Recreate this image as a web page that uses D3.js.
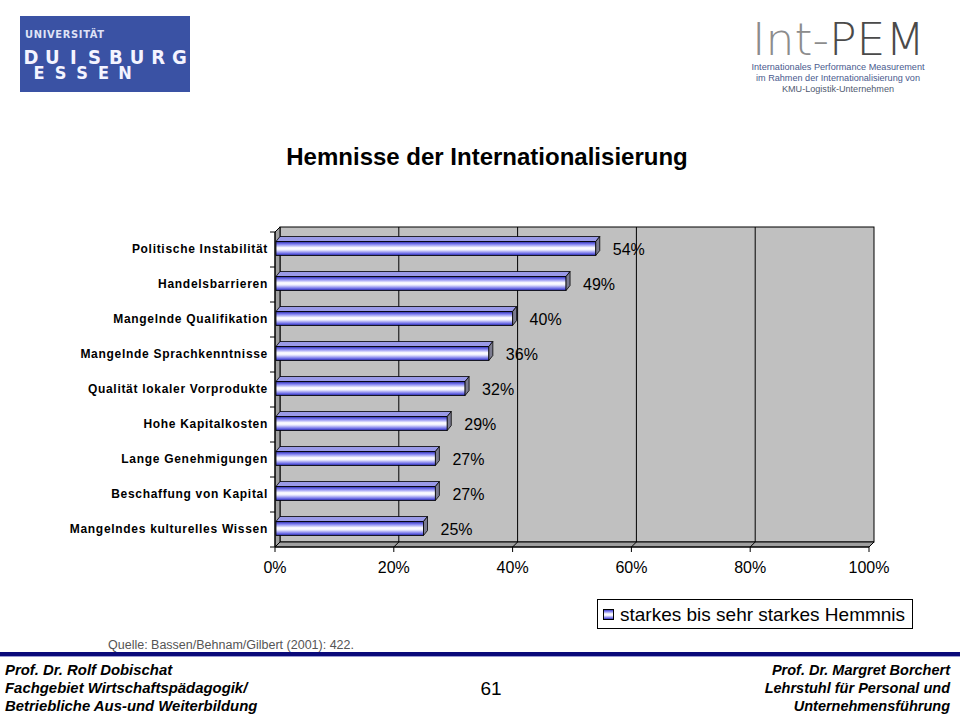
<!DOCTYPE html>
<html><head><meta charset="utf-8">
<script src="https://cdn.jsdelivr.net/npm/d3@7"></script>
<style>body{margin:0;background:#fff}svg{display:block}</style>
</head><body>
<script>
const categories = ["Politische Instabilität","Handelsbarrieren","Mangelnde Qualifikation","Mangelnde Sprachkenntnisse","Qualität lokaler Vorprodukte","Hohe Kapitalkosten","Lange Genehmigungen","Beschaffung von Kapital","Mangelndes kulturelles Wissen"];
const values = [54,49,40,36,32,29,27,27,25];
const tickValues = [0,20,40,60,80,100];
const tickLabels = ["0%","20%","40%","60%","80%","100%"];
const seriesName = "starkes bis sehr starkes Hemmnis";
const title = "Hemnisse der Internationalisierung";

const W=960,H=720;
const svg=d3.select("body").append("svg").attr("width",W).attr("height",H);
const F="Liberation Sans, Arial, sans-serif";
const defs=svg.append("defs");
const g1=defs.append("linearGradient").attr("id","barg").attr("x1",0).attr("y1",0).attr("x2",0).attr("y2",1);
[[0,"#2a2aa8"],[0.18,"#7a7af0"],[0.45,"#ffffff"],[0.6,"#eeeeff"],[0.85,"#7070e8"],[1,"#2222a0"]].forEach(([o,c])=>g1.append("stop").attr("offset",o).attr("stop-color",c));

// ---- logos ----
const lg=svg.append("g");
const FC="DejaVu Sans Condensed, DejaVu Sans, sans-serif";
lg.append("rect").attr("x",20).attr("y",16).attr("width",170).attr("height",76).attr("fill","#3a52a4");
lg.append("text").attr("x",25).attr("y",38).attr("font-family",FC).attr("font-weight","bold").attr("font-size",11).attr("textLength",79).attr("lengthAdjust","spacing").attr("fill","#dfe2f6").text("UNIVERSITÄT");
"DUISBURG".split("").forEach((ch,i)=>lg.append("text").attr("x",31+i*21.2).attr("y",64).attr("text-anchor","middle").attr("font-family",FC).attr("font-weight","bold").attr("font-size",20).attr("fill","#f4f4ff").text(ch));
"ESSEN".split("").forEach((ch,i)=>lg.append("text").attr("x",39+i*21.5).attr("y",79).attr("text-anchor","middle").attr("font-family",FC).attr("font-weight","bold").attr("font-size",18).attr("fill","#f4f4ff").text(ch));

const rg=svg.append("g");
const t1=rg.append("text").attr("x",752).attr("y",55).attr("font-family","DejaVu Sans, sans-serif").attr("font-weight","200").attr("font-size",45).attr("textLength",173).attr("lengthAdjust","spacingAndGlyphs");
t1.append("tspan").attr("fill","#8c8c8c").text("Int-");
t1.append("tspan").attr("fill","#4a4a4a").text("PEM");
const subs=["Internationales Performance Measurement","im Rahmen der Internationalisierung von","KMU-Logistik-Unternehmen"];
const subW=[173,164,112];
subs.forEach((s,i)=>
 rg.append("text").attr("x",838).attr("y",70+i*11).attr("text-anchor","middle").attr("font-family",F).attr("font-size",9.3).attr("textLength",subW[i]).attr("lengthAdjust","spacingAndGlyphs").attr("fill",i==2?"#505a70":"#4a5a8e").text(s));

// ---- title ----
svg.append("text").attr("x",487).attr("y",165).attr("text-anchor","middle").attr("font-family",F).attr("font-weight","bold").attr("font-size",24).attr("fill","#000").text(title);

// ---- chart ----
const x0=275,x1=869,yTop=232,yBot=547,dx=5,dy=-5;
const x=d3.scaleLinear().domain([0,100]).range([x0,x1]);
const y=d3.scaleBand().domain(categories).range([yTop,yBot]).paddingInner(0.6).paddingOuter(0.3);
const yb=d3.scaleBand().domain(categories).range([yTop,yBot]);
const c=svg.append("g");
const pt=(a)=>a.map(p=>p.join(",")).join(" ");
c.append("rect").attr("x",x0+dx).attr("y",yTop+dy).attr("width",x1-x0).attr("height",yBot-yTop).attr("fill","#c0c0c0").attr("stroke","#000").attr("stroke-width",1);
c.append("polygon").attr("points",pt([[x0,yTop],[x0+dx,yTop+dy],[x0+dx,yBot+dy],[x0,yBot]])).attr("fill","#a0a0a0").attr("stroke","#000");
c.append("polygon").attr("points",pt([[x0,yBot],[x0+dx,yBot+dy],[x1+dx,yBot+dy],[x1,yBot]])).attr("fill","#a0a0a0").attr("stroke","#000");
c.selectAll(".grid").data(tickValues.slice(1,-1)).join("line").attr("x1",d=>x(d)+dx).attr("x2",d=>x(d)+dx).attr("y1",yTop+dy).attr("y2",yBot+dy).attr("stroke","#000");
c.selectAll(".gridf").data(tickValues.slice(1)).join("line").attr("x1",d=>x(d)+dx).attr("x2",d=>x(d)).attr("y1",yBot+dy).attr("y2",yBot).attr("stroke","#000");

// bars
const bh=y.bandwidth(), bd=4, bdy=-5;
const bars=c.selectAll(".bar").data(categories).join("g");
bars.each(function(cat,i){
  const gg=d3.select(this);
  const yy=y(cat)-1, xe=x(values[i]), xs=x0+1;
  gg.append("polygon").attr("points",pt([[xs,yy],[xs+bd,yy+bdy],[xe+bd,yy+bdy],[xe,yy]])).attr("fill","#9a9ae8").attr("stroke","#000").attr("stroke-width",0.8);
  gg.append("rect").attr("x",xs).attr("y",yy).attr("width",xe-xs).attr("height",bh).attr("fill","url(#barg)").attr("stroke","#000").attr("stroke-width",0.8);
  gg.append("polygon").attr("points",pt([[xe,yy],[xe+bd,yy+bdy],[xe+bd,yy+bh+bdy],[xe,yy+bh]])).attr("fill","#7c7c90").attr("stroke","#000").attr("stroke-width",0.8);
  gg.append("text").attr("x",xe+17).attr("y",yy+bh/2+6).attr("font-family",F).attr("font-size",16).attr("fill","#000").text(values[i]+"%");
});

// axes
c.append("line").attr("x1",x0).attr("x2",x0).attr("y1",yTop).attr("y2",yBot).attr("stroke","#000");
c.append("line").attr("x1",x0).attr("x2",x1).attr("y1",yBot).attr("y2",yBot).attr("stroke","#000");
c.selectAll(".yt").data(categories.concat(["_end"])).join("line").attr("x1",x0-5).attr("x2",x0)
 .attr("y1",(d,i)=>i<categories.length?yb(d):yBot).attr("y2",(d,i)=>i<categories.length?yb(d):yBot).attr("stroke","#000");
c.selectAll(".xt").data(tickValues).join("line").attr("x1",d=>x(d)).attr("x2",d=>x(d)).attr("y1",yBot).attr("y2",yBot+5).attr("stroke","#000");
c.selectAll(".xl").data(tickValues).join("text").attr("x",d=>x(d)).attr("y",yBot+26).attr("text-anchor","middle").attr("font-family",F).attr("font-size",16).text((d,i)=>tickLabels[i]);
c.selectAll(".yl").data(categories).join("text").attr("x",268).attr("y",d=>y(d)-1+bh/2+4.5).attr("text-anchor","end").attr("font-family",F).attr("font-weight","bold").attr("font-size",12).attr("letter-spacing",0.7).text(d=>d);

// legend
const L=svg.append("g");
L.append("rect").attr("x",597.5).attr("y",599.5).attr("width",315).attr("height",29).attr("fill","#fff").attr("stroke","#000");
L.append("rect").attr("x",603.5).attr("y",609.5).attr("width",10).attr("height",10).attr("fill","url(#barg)").attr("stroke","#000");
L.append("text").attr("x",620).attr("y",621).attr("font-family",F).attr("font-size",19).text(seriesName);

// footer
svg.append("text").attr("x",108).attr("y",649).attr("font-family",F).attr("font-size",12.5).attr("fill","#555").text("Quelle: Bassen/Behnam/Gilbert (2001): 422.");
svg.append("rect").attr("x",0).attr("y",652).attr("width",W).attr("height",4).attr("fill","#0a0a7a");
svg.append("rect").attr("x",0).attr("y",656).attr("width",W).attr("height",1).attr("fill","#9a9ad0");
const fl=["Prof. Dr. Rolf Dobischat","Fachgebiet Wirtschaftspädagogik/","Betriebliche Aus-und Weiterbildung"];
const fr=["Prof. Dr. Margret Borchert","Lehrstuhl für Personal und","Unternehmensführung"];
fl.forEach((s,i)=>svg.append("text").attr("x",5).attr("y",675+i*18).attr("font-family",F).attr("font-style","italic").attr("font-weight","bold").attr("font-size",14.9).attr("fill","#000").text(s));
fr.forEach((s,i)=>svg.append("text").attr("x",950).attr("y",675+i*18).attr("text-anchor","end").attr("font-family",F).attr("font-style","italic").attr("font-weight","bold").attr("font-size",14.5).attr("fill","#000").text(s));
svg.append("text").attr("x",491).attr("y",695).attr("text-anchor","middle").attr("font-family",F).attr("font-size",19).text("61");
</script>
</body></html>
